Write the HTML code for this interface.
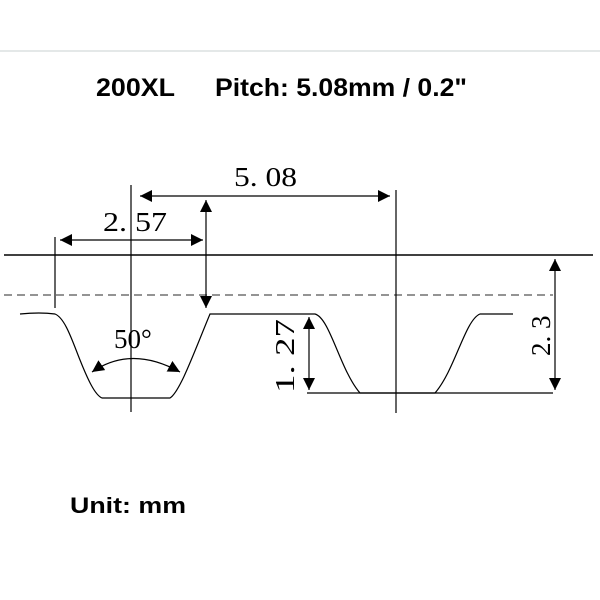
<!DOCTYPE html>
<html><head><style>body{margin:0;background:#fff}svg{display:block}</style></head>
<body>
<svg width="600" height="600" viewBox="0 0 600 600" xmlns="http://www.w3.org/2000/svg">
<defs>
<marker id="a" viewBox="0 0 10 10" refX="10" refY="5" markerWidth="12" markerHeight="12" markerUnits="userSpaceOnUse" orient="auto-start-reverse"><path d="M0,0 L10,5 L0,10 z" fill="#000"/></marker>
</defs>
<line x1="0" y1="51" x2="600" y2="51" stroke="#e4e8e8" stroke-width="2"/>
<g font-family="Liberation Sans, sans-serif" font-weight="bold" font-size="25" fill="#000">
<text x="96" y="96" textLength="79" lengthAdjust="spacingAndGlyphs">200XL</text>
<text x="215" y="96" textLength="252" lengthAdjust="spacingAndGlyphs">Pitch: 5.08mm / 0.2"</text>
</g>
<text x="70" y="513" font-family="Liberation Sans, sans-serif" font-weight="bold" font-size="22" textLength="116" lengthAdjust="spacingAndGlyphs">Unit: mm</text>
<g stroke="#000" fill="none" stroke-width="1.2">
<line x1="4" y1="255" x2="593" y2="255" stroke-width="1.5"/>
<line x1="4" y1="295" x2="553" y2="295" stroke="#555" stroke-dasharray="8,5"/>
<line x1="131" y1="185" x2="131" y2="412"/>
<line x1="396" y1="190" x2="396" y2="413"/>
<line x1="55" y1="237" x2="55" y2="308"/>
<line x1="140" y1="196" x2="390" y2="196" marker-start="url(#a)" marker-end="url(#a)"/>
<line x1="60" y1="240" x2="203" y2="240" marker-start="url(#a)" marker-end="url(#a)"/>
<line x1="206" y1="200" x2="206" y2="308" marker-start="url(#a)" marker-end="url(#a)"/>
<line x1="309" y1="317" x2="309" y2="390" marker-start="url(#a)" marker-end="url(#a)"/>
<line x1="555" y1="259" x2="555" y2="390" marker-start="url(#a)" marker-end="url(#a)"/>
<path d="M20,314 Q40,312 55,314 C65,318 72,340 80,360 C88,380 95,395 102,398 L170,398 C180,392 195,350 210,314 L315,314 C330,318 340,370 360,393 L435,393 C455,370 465,320 480,314 L513,314"/>
<line x1="307" y1="393" x2="553" y2="393"/>
<path d="M92,372 Q131,345 180,372" marker-start="url(#a)" marker-end="url(#a)"/>
</g>
<g font-family="Liberation Serif, serif" font-size="27" fill="#000">
<text x="234" y="186" textLength="63" lengthAdjust="spacingAndGlyphs">5. 08</text>
<text x="103" y="231" textLength="64" lengthAdjust="spacingAndGlyphs">2. 57</text>
<text x="114" y="348">50°</text>
<text transform="translate(294,393) rotate(-90)" textLength="74" lengthAdjust="spacingAndGlyphs">1. 27</text>
<text transform="translate(550,356) rotate(-90)">2. 3</text>
</g>
</svg>
</body></html>
